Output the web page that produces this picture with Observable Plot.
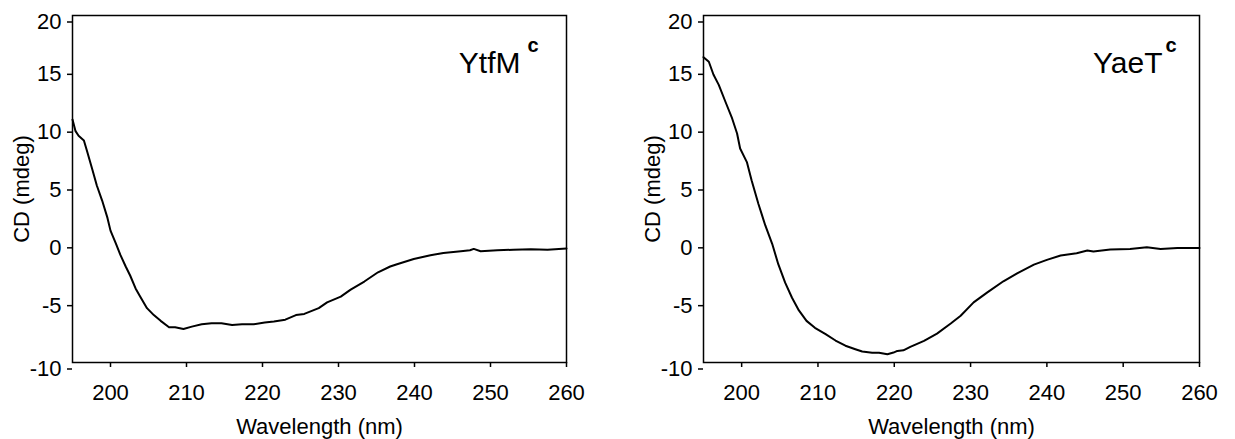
<!DOCTYPE html>
<html><head><meta charset="utf-8">
<script src="https://cdn.jsdelivr.net/npm/d3@7"></script>
<script src="https://cdn.jsdelivr.net/npm/@observablehq/plot@0.6"></script>
<style>
body{margin:0;background:#fff;}
#wrap{position:relative;width:1235px;height:439px;overflow:hidden;}
#wrap > div{position:absolute;top:0;}
</style></head>
<body><div id="wrap"><div id="a" style="left:0"></div><div id="b" style="left:617px"></div></div>
<script>
// Tick values
const xTicks = [200, 210, 220, 230, 240, 250, 260];
const yTicksInner = [-5, 0, 5, 10, 15];
const yTicksEnds = [-10, 20];
const panelNames = ["YtfM", "YaeT"];
const superscript = "c";

// YtfM
const ytfmWavelength = [195.0,195.4,195.8,196.5,196.9,197.6,198.2,198.9,199.6,200.0,200.7,201.3,202.0,202.6,203.3,203.9,204.8,205.7,206.6,207.7,208.5,209.6,210.7,212.0,213.3,214.6,216.0,217.3,218.8,220.3,221.5,223.0,224.4,225.5,227.4,228.5,230.3,231.6,233.4,235.2,236.8,237.7,239.9,242.1,243.8,246.1,247.3,247.8,248.7,250.9,253.0,255.3,257.5,260.0];
const ytfmCD = [11.0,10.0,9.6,9.2,8.3,6.7,5.3,4.0,2.5,1.4,0.3,-0.7,-1.7,-2.5,-3.6,-4.3,-5.3,-5.9,-6.4,-6.95,-6.95,-7.1,-6.9,-6.7,-6.6,-6.6,-6.75,-6.7,-6.7,-6.55,-6.45,-6.3,-5.9,-5.8,-5.3,-4.8,-4.3,-3.7,-3.0,-2.2,-1.7,-1.5,-1.05,-0.73,-0.53,-0.38,-0.3,-0.18,-0.38,-0.3,-0.25,-0.2,-0.25,-0.15];

// YaeT
const yaetWavelength = [195.0,195.7,196.3,197.0,197.9,198.7,199.4,199.8,200.7,201.3,202.2,203.1,204.0,204.8,205.7,206.6,207.5,208.5,209.6,211.0,212.3,213.6,214.9,215.8,217.1,218.0,219.1,219.9,220.4,221.2,222.1,223.9,225.6,227.4,228.7,230.4,232.2,234.3,236.1,238.3,240.0,241.8,243.9,245.3,246.1,248.3,250.9,253.1,254.9,257.1,260.0];
const yaetCD = [16.4,16.0,14.9,14.0,12.5,11.2,9.8,8.5,7.3,5.75,3.7,1.85,0.26,-1.5,-3.1,-4.4,-5.5,-6.4,-7.0,-7.55,-8.1,-8.55,-8.85,-9.05,-9.15,-9.15,-9.28,-9.14,-9.0,-8.95,-8.65,-8.13,-7.5,-6.63,-5.96,-4.8,-3.94,-2.98,-2.29,-1.54,-1.13,-0.75,-0.55,-0.32,-0.4,-0.24,-0.18,-0.04,-0.18,-0.1,-0.1];

const FONT = "'Liberation Sans', Arial, Helvetica, sans-serif";
const fmt = d => `${d}`;

function panel({wl, cd, name, width, marginLeft, marginRight, nameDx, supDx}) {
  const data = wl.map((w, i) => ({w, v: cd[i]}));
  return Plot.plot({
    width, height: 439,
    marginTop: 15, marginBottom: 77, marginLeft, marginRight,
    style: {fontFamily: FONT, fontSize: "22px", color: "#000", background: "#fff", overflow: "visible"},
    x: {domain: [195, 260]},
    y: {domain: [-10, 20]},
    marks: [
      Plot.frame({stroke: "#000", strokeWidth: 1.5}),
      Plot.axisX({ticks: xTicks, tickFormat: fmt, tickSize: 5, tickPadding: 17, strokeWidth: 1.5, fontSize: 22,
        label: "Wavelength (nm)", labelAnchor: "center", labelOffset: 71, labelArrow: "none"}),
      Plot.axisY({ticks: yTicksInner, tickFormat: fmt, tickSize: 5, tickPadding: 6, strokeWidth: 1.5, fontSize: 22, dy: 1,
        label: "CD (mdeg)", labelAnchor: "center", labelOffset: 59, labelArrow: "none"}),
      Plot.axisY({ticks: yTicksEnds, tickFormat: fmt, tickSize: 5, tickPadding: 6, strokeWidth: 1.5, fontSize: 22, dy: 6.5,
        label: null}),
      Plot.line(data, {x: "w", y: "v", stroke: "#000", strokeWidth: 2}),
      Plot.text([name], {text: d => d, frameAnchor: "top-right", textAnchor: "end", lineAnchor: "bottom",
        dx: nameDx, dy: 57, fontSize: 30, fill: "#000"}),
      Plot.text([superscript], {text: d => d, frameAnchor: "top-right", textAnchor: "start", lineAnchor: "bottom",
        dx: supDx, dy: 36.5, fontSize: 20, fontWeight: "bold", fill: "#000"})
    ]
  });
}

document.getElementById("a").append(panel({wl: ytfmWavelength, cd: ytfmCD, name: panelNames[0],
  width: 617, marginLeft: 72, marginRight: 51, nameDx: -46, supDx: -39}));
document.getElementById("b").append(panel({wl: yaetWavelength, cd: yaetCD, name: panelNames[1],
  width: 618, marginLeft: 86, marginRight: 36, nameDx: -37, supDx: -34}));
</script>
</body></html>
